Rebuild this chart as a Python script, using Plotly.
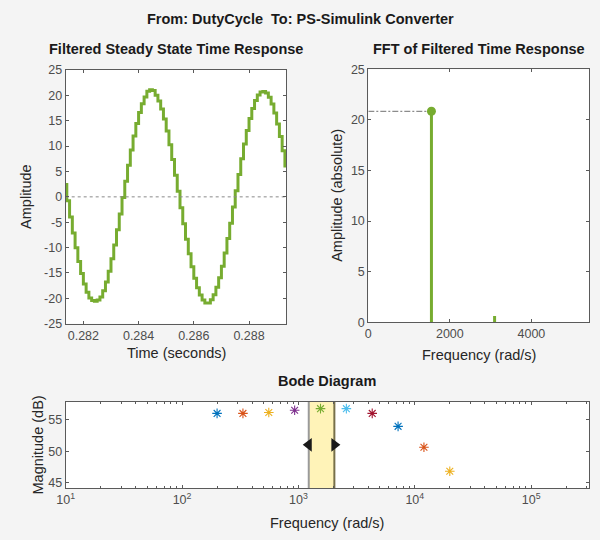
import plotly.graph_objects as go

# ---------------- data ----------------
# Filtered steady-state time response (zero-order-hold samples, Ts = 1e-4 s)
t_first = 0.2813
t_step = 1e-4
resp_vals = [2.44, -0.79, -3.99, -7.10, -10.04, -12.74, -15.13, -17.16, -18.78, -19.95,
             -20.45, -20.60, -20.35, -19.76, -18.49, -16.79, -14.68, -12.22, -9.47, -6.49,
             -3.36, -0.15, 3.07, 6.22, 9.21, 11.99, 14.48, 16.62, 18.36, 19.66,
             20.80, 21.10, 20.95, 20.03, 18.90, 17.32, 15.33, 12.96, 10.29, 7.37,
             4.27, 1.08, -2.15, -5.32, -8.37, -11.21, -13.79, -16.04, -17.90, -19.34,
             -20.31, -20.90, -20.90, -20.27, -19.28, -17.82, -15.95, -13.68, -11.09, -8.23,
             -5.18, -2.01, 1.22, 4.42, 7.51, 10.41, 13.08, 15.43, 17.41, 18.97,
             20.07, 20.65, 20.75, 20.47, 19.61, 18.29, 16.53, 14.38, 11.87, 9.08,
             6.08]
time_ticks = [0.282, 0.284, 0.286, 0.288]
time_range = [0.28136, 0.28935]
amp_ticks = [-25, -20, -15, -10, -5, 0, 5, 10, 15, 20, 25]

# FFT of filtered time response
fft_freq = [0.0, 774.2, 1548.5, 2322.7, 3097.0, 3871.2, 4645.5, 5419.7]
fft_amp = [0.0, 0.015, 20.85, 0.015, 0.62, 0.0, 0.015, 0.0]
fft_xticks = [0, 2000, 4000]
fft_yticks = [0, 5, 10, 15, 20, 25]

# Bode diagram estimated points
bode_freq = [200, 333.6, 556.5, 928.3, 1548.5, 2583, 4309, 7188, 11990, 20000]
bode_mag = [56.0, 56.0, 56.15, 56.5, 56.75, 56.75, 56.0, 53.95, 50.64, 46.85]
bode_colors = ["#0072BD", "#D95319", "#EDB120", "#7E2F8E", "#77AC30",
               "#4DBEEE", "#A2142F", "#0072BD", "#D95319", "#EDB120"]
band_edges = [1227, 2037]
bode_yrange = [44.2, 57.85]
bode_yticks = [45, 50, 55]
bode_xticks = [10, 100, 1000, 10000, 100000]
bode_xticktext = ["10<sup>1</sup>", "10<sup>2</sup>", "10<sup>3</sup>",
                  "10<sup>4</sup>", "10<sup>5</sup>"]

# ---------------- styling ----------------
FONT = "Liberation Sans, Arial, sans-serif"
GREEN = "#77AC30"
AX_COLOR = "#5a5a5a"
TICK_FONT = dict(family=FONT, size=12.5, color="#4d4d4d")
W, H = 600, 540


def px_x(p):
    return p / W


def px_y(p):
    return 1 - p / H


fig = go.Figure()

# time response (staircase)
t_vals = [t_first + i * t_step for i in range(len(resp_vals))]
t_plot = t_vals + [t_vals[-1] + t_step]
v_plot = resp_vals + [resp_vals[-1]]
fig.add_trace(go.Scatter(x=t_plot, y=v_plot, mode="lines", line_shape="hv",
                         line=dict(color=GREEN, width=3), xaxis="x", yaxis="y",
                         hoverinfo="skip", showlegend=False))
# zero reference line
fig.add_trace(go.Scatter(x=time_range, y=[0, 0], mode="lines",
                         line=dict(color="#8a8a8a", width=1, dash="dot"),
                         xaxis="x", yaxis="y", showlegend=False, hoverinfo="skip"))

# FFT stems
sx, sy = [], []
for f, a in zip(fft_freq, fft_amp):
    sx += [f, f, None]
    sy += [0, a, None]
fig.add_trace(go.Scatter(x=sx, y=sy, mode="lines", line=dict(color=GREEN, width=3),
                         xaxis="x2", yaxis="y2", showlegend=False, hoverinfo="skip"))
ipk = fft_amp.index(max(fft_amp))
fig.add_trace(go.Scatter(x=[0, fft_freq[ipk]], y=[fft_amp[ipk], fft_amp[ipk]], mode="lines",
                         line=dict(color="#8c8c8c", width=1.2, dash="6px,2px,2px,2px"),
                         xaxis="x2", yaxis="y2", showlegend=False, hoverinfo="skip"))
fig.add_trace(go.Scatter(x=[fft_freq[ipk]], y=[fft_amp[ipk]], mode="markers",
                         marker=dict(color=GREEN, size=9, symbol="circle"),
                         xaxis="x2", yaxis="y2", showlegend=False, hoverinfo="skip",
                         cliponaxis=False))

# Bode: selection band
lo, hi = band_edges
ylo, yhi = bode_yrange
fig.add_trace(go.Scatter(x=[lo, lo, hi, hi, lo], y=[ylo, yhi, yhi, ylo, ylo], mode="lines",
                         fill="toself", fillcolor="#FFF3B8", line=dict(width=0),
                         xaxis="x3", yaxis="y3", showlegend=False, hoverinfo="skip"))
fig.add_trace(go.Scatter(x=[lo, lo], y=[ylo, yhi], mode="lines",
                         line=dict(color="#9a9a9a", width=2),
                         xaxis="x3", yaxis="y3", showlegend=False, hoverinfo="skip"))
fig.add_trace(go.Scatter(x=[hi, hi], y=[ylo, yhi], mode="lines",
                         line=dict(color="#77704a", width=2),
                         xaxis="x3", yaxis="y3", showlegend=False, hoverinfo="skip"))
# Bode points
fig.add_trace(go.Scatter(x=bode_freq, y=bode_mag, mode="markers",
                         marker=dict(symbol="asterisk-open", size=8, color=bode_colors,
                                     line=dict(color=bode_colors, width=1.1)),
                         xaxis="x3", yaxis="y3", showlegend=False, hoverinfo="skip"))
ymid = (ylo + yhi) / 2
fig.add_trace(go.Scatter(x=[lo], y=[ymid], mode="markers",
                         marker=dict(symbol="triangle-left", size=12, color="#1a1a1a"),
                         xaxis="x3", yaxis="y3", showlegend=False, hoverinfo="skip"))
fig.add_trace(go.Scatter(x=[hi], y=[ymid], mode="markers",
                         marker=dict(symbol="triangle-right", size=12, color="#1a1a1a"),
                         xaxis="x3", yaxis="y3", showlegend=False, hoverinfo="skip"))

common = dict(showline=True, linecolor=AX_COLOR, linewidth=1, mirror="ticks",
              ticks="inside", ticklen=3, tickcolor=AX_COLOR, tickwidth=1,
              showgrid=False, zeroline=False, tickfont=TICK_FONT, automargin=False)


def hyphen_labels(vals):
    return [str(v) for v in vals]


fig.update_layout(
    width=W, height=H, autosize=False,
    margin=dict(l=0, r=0, t=0, b=0, pad=0, autoexpand=False),
    paper_bgcolor="#F4F4F4", plot_bgcolor="#FFFFFF",
    showlegend=False,
    xaxis=dict(domain=[px_x(65.7), px_x(286.3)], range=time_range, tickvals=time_ticks,
               tickformat=".3f", anchor="y", **common),
    yaxis=dict(domain=[px_y(323.7), px_y(70)], range=[-25, 25], tickvals=amp_ticks,
               ticktext=hyphen_labels(amp_ticks), anchor="x", **common),
    xaxis2=dict(domain=[px_x(368.3), px_x(589.3)], range=[0, 5419.7], tickvals=fft_xticks,
                anchor="y2", **common),
    yaxis2=dict(domain=[px_y(322.3), px_y(69.3)], range=[0, 25], tickvals=fft_yticks,
                ticktext=hyphen_labels(fft_yticks), anchor="x2", **common),
    xaxis3=dict(domain=[px_x(65.7), px_x(589.3)], type="log", range=[1, 5.5],
                tickvals=bode_xticks, ticktext=bode_xticktext, anchor="y3",
                minor=dict(ticks="inside", ticklen=2, tickcolor=AX_COLOR, dtick="D1"),
                **common),
    yaxis3=dict(domain=[px_y(488), px_y(401.7)], range=bode_yrange, tickvals=bode_yticks,
                ticktext=hyphen_labels(bode_yticks), anchor="x3", **common),
)

TITLE_FONT = dict(family=FONT, size=14.5, color="#1a1a1a")
LABEL_FONT = dict(family=FONT, size=14.5, color="#262626")
annots = [
    dict(text="<b>From: DutyCycle\u00a0 To: PS-Simulink Converter</b>", x=0.5, y=px_y(19), font=TITLE_FONT),
    dict(text="<b>Filtered Steady State Time Response</b>", x=px_x(176), y=px_y(49), font=TITLE_FONT),
    dict(text="<b>FFT of Filtered Time Response</b>", x=px_x(478.8), y=px_y(49), font=TITLE_FONT),
    dict(text="<b>Bode Diagram</b>", x=px_x(327.5), y=px_y(381), font=TITLE_FONT),
    dict(text="Time (seconds)", x=px_x(176), y=px_y(353), font=LABEL_FONT),
    dict(text="Frequency (rad/s)", x=px_x(478.8), y=px_y(355), font=LABEL_FONT),
    dict(text="Frequency (rad/s)", x=px_x(327.5), y=px_y(523), font=LABEL_FONT),
    dict(text="Amplitude", x=px_x(26), y=px_y(196.9), font=LABEL_FONT, textangle=-90),
    dict(text="Amplitude (absolute)", x=px_x(337), y=px_y(195.8), font=LABEL_FONT, textangle=-90),
    dict(text="Magnitude (dB)", x=px_x(37.5), y=px_y(445), font=LABEL_FONT, textangle=-90),
]
for a in annots:
    fig.add_annotation(xref="paper", yref="paper", showarrow=False,
                       xanchor="center", yanchor="middle", **a)

fig.write_html("out.html")
